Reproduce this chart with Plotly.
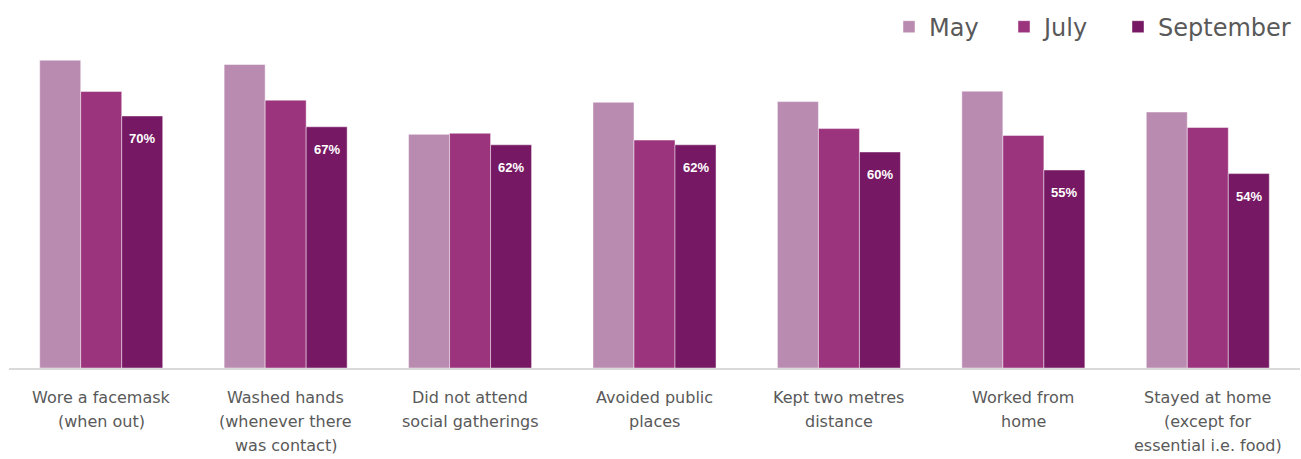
import plotly.graph_objects as go

categories = [
    "Wore a facemask<br>(when out)",
    "Washed hands<br>(whenever there<br>was contact)",
    "Did not attend<br>social gatherings",
    "Avoided public<br>places",
    "Kept two metres<br>distance",
    "Worked from<br>home",
    "Stayed at home<br>(except for<br>essential i.e. food)",
]
may = [85.5, 84.3, 64.9, 73.8, 74.0, 76.9, 71.1]
july = [76.8, 74.4, 65.2, 63.3, 66.5, 64.6, 66.8]
september = [70, 67, 62, 62, 60, 55, 54]

colors = {"May": "#BA8BB1", "July": "#9B337D", "September": "#761863"}
label_font = "DejaVu Sans, Verdana, sans-serif"
value_font = "Liberation Sans, Arial, sans-serif"

fig = go.Figure()
legend_ids = {"May": "legend", "July": "legend2", "September": "legend3"}
for name, vals in [("May", may), ("July", july), ("September", september)]:
    fig.add_trace(go.Bar(
        name=name, x=categories, y=vals,
        marker=dict(color=colors[name], line=dict(color="rgba(255,255,255,0.45)", width=1)),
        hoverinfo="skip", legend=legend_ids[name], showlegend=True,
    ))

# data labels for September (inside bar, near top)
for c, v in zip(categories, september):
    fig.add_annotation(
        x=c, y=v, xref="x", yref="y", text=f"<b>{v}%</b>", showarrow=False,
        xshift=41, yshift=-13, yanchor="top",
        font=dict(family=value_font, size=13, color="white"),
    )

# category labels (one annotation per line for Excel-like line spacing)
for c in categories:
    for i, line in enumerate(c.split("<br>")):
        fig.add_annotation(
            x=c, y=0, xref="x", yref="y", text=line, showarrow=False,
            yanchor="middle", yshift=-(29 + 24.4 * i),
            font=dict(family=label_font, size=16, color="#595959"),
        )

leg_common = dict(
    orientation="h", yanchor="middle", y=0.947, xanchor="left",
    font=dict(family=label_font, size=24, color="#595959"),
    bgcolor="rgba(0,0,0,0)", itemclick=False, itemdoubleclick=False,
    visible=True,
)

fig.update_layout(
    width=1301, height=459,
    margin=dict(l=9, r=1, t=8, b=91),
    paper_bgcolor="white", plot_bgcolor="white",
    barmode="group", bargap=0.333, bargroupgap=0,
    showlegend=True,
    font=dict(family=label_font, color="#595959"),
    legend=dict(x=(889 - 9) / 1291, **leg_common),
    legend2=dict(x=(1004 - 9) / 1291, **leg_common),
    legend3=dict(x=(1118 - 9) / 1291, **leg_common),
    xaxis=dict(
        showline=True, linecolor="#D9D9D9", linewidth=1.5,
        showgrid=False, showticklabels=False, ticks="",
    ),
    yaxis=dict(range=[0, 100], visible=False, showgrid=False, zeroline=False),
)

fig.write_html("out.html")
